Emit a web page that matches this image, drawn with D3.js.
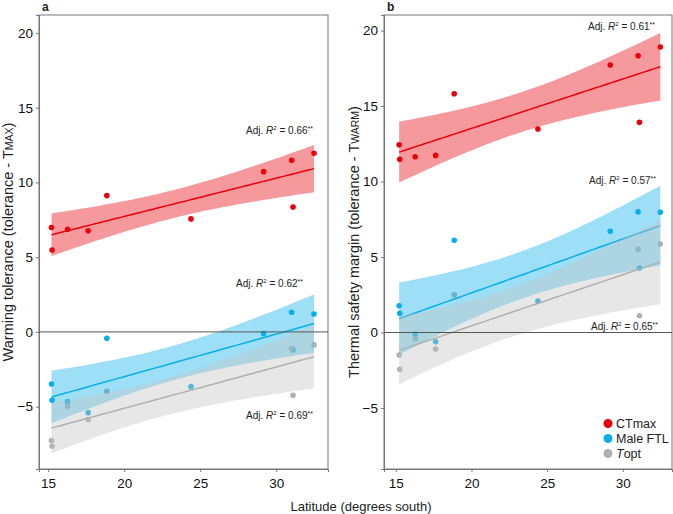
<html>
<head>
<meta charset="utf-8">
<script src="https://d3js.org/d3.v7.min.js"></script>
<style>
	body { margin: 0; background: white; }
	text { font-family: "Liberation Sans", Arial, sans-serif; }
</style>
</head>
<body>
<svg id="plot"></svg>
<script>

	// latitude of the ten sites (degrees south)
	var latitude = [15.22, 15.26, 16.28, 17.63, 18.86, 24.39, 29.17, 31.01, 31.1, 32.48]
	// Topt is missing for two sites
	var latitudeTopt = [15.22, 15.26, 16.28, 17.63, 18.86, 31.01, 31.1, 32.48]

	// panel a: warming tolerance
	var ctmaxA = [6.98, 5.48, 6.87, 6.76, 9.12, 7.56, 10.72, 11.48, 8.36, 11.95]
	var ftlA = [-3.48, -4.57, -4.68, -5.40, -0.42, -3.66, -0.11, 1.32, -1.2, 1.20]
	var toptA = [-7.27, -7.65, -4.97, -5.87, -3.97, -1.12, -4.24, -0.87]

	// panel b: thermal safety margin
	var ctmaxB = [12.44, 11.47, 11.64, 11.73, 15.81, 13.48, 17.72, 18.33, 13.92, 18.91]
	var ftlB = [1.77, 1.27, -0.10, -0.61, 6.11, 2.09, 6.70, 8.0, 4.27, 7.96]
	var toptB = [-1.49, -2.44, -0.39, -1.09, 2.50, 5.51, 1.11, 5.86]

	var seriesNames = ["CTmax", "Male FTL", "Topt"]
	var r2A = ["0.66", "0.62", "0.69"]
	var r2B = ["0.61", "0.57", "0.65"]
	var xTicks = [15, 20, 25, 30]
	var yTicks = [-5, 0, 5, 10, 15, 20]

	var colors = ["#e8000b", "#0aaee8", "#b0b0b0"]
	var bandColors = ["#e8000b", "#0aaee8", "#c4c4c4"]

	var width = 673
	var height = 514

	var svg = d3.select("#plot")
		.attr("width", width)
		.attr("height", height)

	// two-sided 95% t values for the small sample sizes used here
	var tTable = {6: 2.447, 7: 2.365, 8: 2.306, 9: 2.262}

	// ordinary least squares fit with 95% confidence band, like geom_smooth(method = "lm")
	function lmFit(xs, ys) {
		var n = xs.length
		var mx = d3.mean(xs), my = d3.mean(ys)
		var sxx = d3.sum(xs, function (x) { return (x - mx) * (x - mx) })
		var sxy = d3.sum(xs, function (x, i) { return (x - mx) * (ys[i] - my) })
		var b = sxy / sxx
		var a = my - b * mx
		var ssr = d3.sum(xs, function (x, i) { var e = ys[i] - (a + b * x); return e * e })
		var s = Math.sqrt(ssr / (n - 2))
		var t = tTable[n - 2]
		var lo = d3.min(xs), hi = d3.max(xs)
		var pts = []
		for (var k = 0; k <= 60; k++) {
			var x = lo + (hi - lo) * k / 60
			var fit = a + b * x
			var se = s * Math.sqrt(1 / n + (x - mx) * (x - mx) / sxx)
			pts.push({x: x, fit: fit, lower: fit - t * se, upper: fit + t * se})
		}
		return pts
	}

	function drawPanel(opt) {
		var xScale = d3.scaleLinear().domain(opt.xDomain).range([opt.left, opt.right])
		var yScale = d3.scaleLinear().domain(opt.yDomain).range([opt.bottom, opt.top])

		var g = svg.append("g")

		// frame
		g.append("rect")
			.attr("x", opt.left)
			.attr("y", opt.top)
			.attr("width", opt.right - opt.left)
			.attr("height", opt.bottom - opt.top)
			.attr("fill", "none")
			.attr("stroke", "#777")
			.attr("stroke-width", 1)

		// axes
		var xAxis = d3.axisBottom(xScale).tickValues(xTicks).tickSize(3).tickPadding(3)
		var yAxis = d3.axisLeft(yScale).tickValues(yTicks).tickSize(3).tickPadding(3)

		var gx = g.append("g")
			.attr("transform", "translate(0," + opt.bottom + ")")
			.call(xAxis)
		var gy = g.append("g")
			.attr("transform", "translate(" + opt.left + ",0)")
			.call(yAxis)

		;[gx, gy].forEach(function (ax) {
			ax.select(".domain").attr("stroke", "#777")
			ax.selectAll(".tick line").attr("stroke", "#777")
			ax.selectAll(".tick text")
				.attr("font-size", 13.5)
				.attr("fill", "#111")
				.style("font-family", "'Liberation Sans', Arial, sans-serif")
		})
		gx.selectAll(".tick text").attr("dy", "0.95em")

		var series = [
			{xs: latitude, ys: opt.ctmax},
			{xs: latitude, ys: opt.ftl},
			{xs: latitudeTopt, ys: opt.topt}
		]

		// points first, then the fitted bands and lines on top
		series.forEach(function (s, i) {
			g.append("g").selectAll("circle")
				.data(s.ys)
				.enter()
				.append("circle")
				.attr("cx", function (d, j) { return xScale(s.xs[j]) })
				.attr("cy", function (d) { return yScale(d) })
				.attr("r", 2.8)
				.attr("fill", colors[i])
		})

		series.forEach(function (s, i) {
			var fit = lmFit(s.xs, s.ys)
			g.append("path")
				.datum(fit)
				.attr("d", d3.area()
					.x(function (d) { return xScale(d.x) })
					.y0(function (d) { return yScale(d.lower) })
					.y1(function (d) { return yScale(d.upper) }))
				.attr("fill", bandColors[i])
				.attr("fill-opacity", 0.4)
			g.append("path")
				.datum(fit)
				.attr("d", d3.line()
					.x(function (d) { return xScale(d.x) })
					.y(function (d) { return yScale(d.fit) }))
				.attr("fill", "none")
				.attr("stroke", colors[i])
				.attr("stroke-width", 1.5)
		})

		// zero line
		g.append("line")
			.attr("x1", opt.left)
			.attr("x2", opt.right)
			.attr("y1", yScale(0))
			.attr("y2", yScale(0))
			.attr("stroke", "#555")
			.attr("stroke-width", 1)

		// adjusted R2 labels
		opt.r2.forEach(function (v, i) {
			var t = g.append("text")
				.attr("x", opt.r2Pos[i][0])
				.attr("y", opt.r2Pos[i][1])
				.attr("text-anchor", "end")
				.attr("font-size", 10)
				.attr("fill", "#222")
			t.append("tspan").text("Adj. ")
			t.append("tspan").attr("font-style", "italic").text("R")
			t.append("tspan").attr("font-size", 6).attr("dy", -4).text("2")
			t.append("tspan").attr("dy", 4).text(" = " + v)
			t.append("tspan").attr("font-size", 7).attr("dy", -3).text("**")
		})

		// panel letter
		g.append("text")
			.attr("x", opt.left + 3)
			.attr("y", 11)
			.attr("font-size", 12)
			.attr("font-weight", "bold")
			.attr("fill", "#222")
			.text(opt.letter)

		// y label
		var yl = g.append("text")
			.attr("transform", "translate(" + opt.yLabelX + "," + ((opt.top + opt.bottom) / 2) + ")rotate(-90)")
			.attr("text-anchor", "middle")
			.attr("font-size", 14.5)
			.attr("fill", "#222")
		yl.append("tspan").text(opt.yLabel + " (tolerance - T")
		yl.append("tspan").attr("font-size", 10.5).text(opt.ySub)
		yl.append("tspan").attr("font-size", 14.5).text(")")

		return {x: xScale, y: yScale}
	}

	drawPanel({
		letter: "a",
		left: 39, right: 328, top: 15, bottom: 469,
		xDomain: [14.4, 33.4], yDomain: [-9.17, 21.2],
		ctmax: ctmaxA, ftl: ftlA, topt: toptA,
		r2: r2A, r2Pos: [[313, 134], [303, 287], [313, 419]],
		yLabel: "Warming tolerance", ySub: "MAX", yLabelX: 13
	})

	drawPanel({
		letter: "b",
		left: 384, right: 672, top: 15, bottom: 469,
		xDomain: [14.22, 33.25], yDomain: [-9.04, 21.03],
		ctmax: ctmaxB, ftl: ftlB, topt: toptB,
		r2: r2B, r2Pos: [[655, 30], [656, 184], [658, 330]],
		yLabel: "Thermal safety margin", ySub: "WARM", yLabelX: 359
	})

	// x label
	svg.append("text")
		.attr("x", 361)
		.attr("y", 511)
		.attr("text-anchor", "middle")
		.attr("font-size", 13)
		.attr("fill", "#222")
		.text("Latitude (degrees south)")

	// legend
	var legend = svg.append("g")
		.selectAll("g")
		.data(seriesNames)
		.enter()
		.append("g")
		.attr("transform", function (d, i) {
			return "translate(608," + (423.5 + i * 15) + ")"
		})

	legend.append("circle")
		.attr("r", 4.5)
		.attr("fill", function (d, i) { return colors[i] })

	legend.append("text")
		.attr("x", 8)
		.attr("dy", "0.35em")
		.attr("font-size", 12.5)
		.attr("fill", "#222")
		.each(function (d) {
			var t = d3.select(this)
			if (d == "Topt") {
				t.append("tspan").attr("font-style", "italic").text("T")
				t.append("tspan").text("opt")
			} else {
				t.text(d)
			}
		})

</script>
</body>
</html>
